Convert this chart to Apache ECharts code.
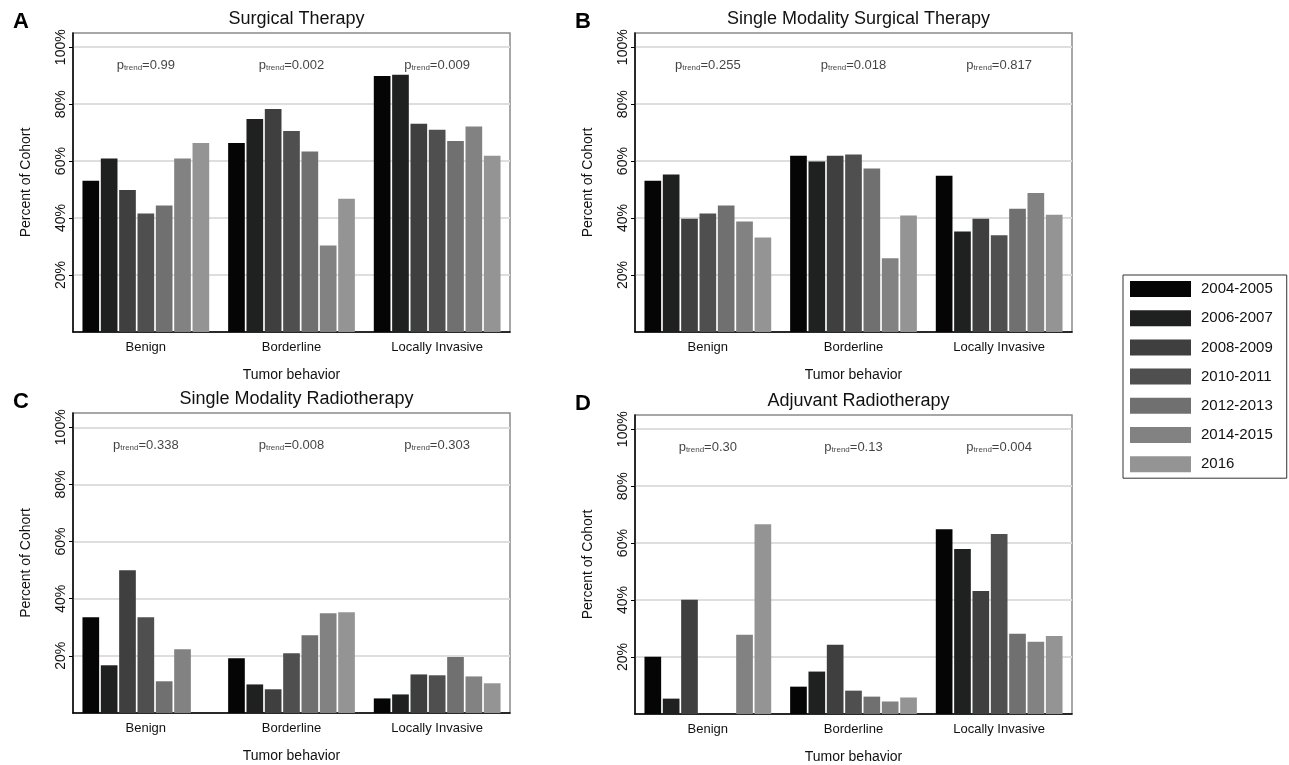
<!DOCTYPE html>
<html>
<head>
<meta charset="utf-8">
<script src="https://cdn.jsdelivr.net/npm/echarts@6/dist/echarts.min.js"></script>
<style>html,body{margin:0;padding:0;background:#fff;}#c{width:1289px;height:765px;}</style>
</head>
<body>
<div id="c"></div>
<script>
const categories = ['Benign', 'Borderline', 'Locally Invasive'];
const periods = ['2004-2005', '2006-2007', '2008-2009', '2010-2011', '2012-2013', '2014-2015', '2016'];
const colors = ['#050505', '#1f2020', '#3f3f3f', '#4f4f4f', '#707070', '#828282', '#949494'];
const yTicks = [20, 40, 60, 80, 100];

const panelTitles = ['Surgical Therapy', 'Single Modality Surgical Therapy', 'Single Modality Radiotherapy', 'Adjuvant Radiotherapy'];
const panelLetters = ['A', 'B', 'C', 'D'];

// values[period][category]
const surgical = [
  [53.1, 66.4, 89.9],
  [60.9, 74.8, 90.3],
  [49.9, 78.3, 73.1],
  [41.6, 70.6, 71.0],
  [44.4, 63.4, 67.1],
  [60.9, 30.4, 72.2],
  [66.4, 46.8, 61.9]
];
const singleSurgical = [
  [53.1, 61.9, 54.9],
  [55.3, 59.9, 35.3],
  [39.8, 61.9, 39.8],
  [41.6, 62.3, 34.0],
  [44.4, 57.4, 43.3],
  [38.8, 25.9, 48.8],
  [33.2, 40.9, 41.2]
];
const singleRadio = [
  [33.5, 19.2, 5.1],
  [16.7, 10.0, 6.5],
  [50.0, 8.3, 13.5],
  [33.5, 20.9, 13.2],
  [11.1, 27.2, 19.6],
  [22.3, 34.9, 12.8],
  [0, 35.3, 10.4]
];
const adjuvantRadio = [
  [20.1, 9.6, 64.9],
  [5.4, 14.9, 57.9],
  [40.1, 24.3, 43.2],
  [0, 8.2, 63.2],
  [0, 6.1, 28.2],
  [27.8, 4.4, 25.4],
  [66.6, 5.8, 27.4]
];
const pTrendA = ['0.99', '0.002', '0.009'];
const pTrendB = ['0.255', '0.018', '0.817'];
const pTrendC = ['0.338', '0.008', '0.303'];
const pTrendD = ['0.30', '0.13', '0.004'];

const panelData = [surgical, singleSurgical, singleRadio, adjuvantRadio];
const panelP = [pTrendA, pTrendB, pTrendC, pTrendD];

const grids = [
  {left: 73, top: 33, width: 437, height: 299},
  {left: 635, top: 33, width: 437, height: 299},
  {left: 73, top: 413, width: 437, height: 300},
  {left: 635, top: 415, width: 437, height: 299}
];

const FONT = 'Liberation Sans, Arial, Helvetica, sans-serif';
const option = {
  animation: false,
  backgroundColor: '#fff',
  textStyle: {fontFamily: FONT},
  title: [],
  grid: [],
  xAxis: [],
  yAxis: [],
  series: [],
  legend: {
    data: periods,
    orient: 'vertical',
    left: 1123, top: 275,
    itemWidth: 61, itemHeight: 16, itemGap: 13.2,
    padding: [6, 14, 6, 7],
    borderColor: '#333', borderWidth: 1,
    icon: 'rect',
    itemStyle: {borderWidth: 0},
    textStyle: {fontSize: 15, color: '#111', fontFamily: FONT, padding: [0, 0, 0, 5]},
    selectedMode: false
  }
};

grids.forEach((g, i) => {
  option.grid.push(Object.assign({show: true, borderColor: '#8a8a8a', borderWidth: 1.5, backgroundColor: 'transparent', containLabel: false}, g));
  option.title.push({
    text: panelTitles[i], left: g.left + g.width / 2, top: g.top - 28, textAlign: 'center',
    textStyle: {fontSize: 18, fontWeight: 'normal', color: '#111', fontFamily: FONT}
  });
  option.title.push({
    text: panelLetters[i], left: i % 2 === 0 ? 8 : 570, top: g.top - 27,
    textStyle: {fontSize: 22, fontWeight: 'bold', color: '#000', fontFamily: FONT}
  });
  option.xAxis.push({
    type: 'category', gridIndex: i, data: categories,
    name: 'Tumor behavior', nameLocation: 'middle', nameGap: 36,
    nameTextStyle: {fontSize: 14, color: '#111', fontFamily: FONT},
    axisLine: {show: true, lineStyle: {color: '#000', width: 1.5}},
    axisTick: {show: false},
    axisLabel: {fontSize: 13, color: '#111', margin: 9, fontFamily: FONT},
    splitLine: {show: false}
  });
  option.yAxis.push({
    type: 'value', gridIndex: i, min: 0, max: 105, interval: 20,
    name: 'Percent of Cohort', nameLocation: 'middle', nameGap: 40,
    nameTextStyle: {fontSize: 14, color: '#111', fontFamily: FONT},
    axisLine: {show: true, lineStyle: {color: '#000', width: 1.5}},
    axisTick: {show: true, length: 4, lineStyle: {color: '#000'}, customValues: yTicks},
    axisLabel: {
      rotate: 90, fontSize: 14, color: '#111', margin: 5, fontFamily: FONT,
      customValues: yTicks,
      formatter: v => v + '%'
    },
    splitLine: {show: true, lineStyle: {color: '#dedede', width: 2}}
  });
  panelData[i].forEach((vals, k) => {
    option.series.push({
      type: 'bar', name: periods[k], xAxisIndex: i, yAxisIndex: i,
      data: vals,
      barGap: '10%', barCategoryGap: '13%',
      itemStyle: {color: colors[k]},
      emphasis: {disabled: true}
    });
  });
  option.series.push({
    type: 'scatter', xAxisIndex: i, yAxisIndex: i, symbolSize: 0,
    data: categories.map((c, j) => ({value: [c, 94.6], p: panelP[i][j]})),
    silent: true,
    label: {
      show: true, position: 'inside',
      formatter: d => '{p|p}{s|trend}{v|=' + d.data.p + '}',
      rich: {
        p: {fontSize: 13, color: '#111', fontFamily: FONT, lineHeight: 18, verticalAlign: 'bottom'},
        s: {fontSize: 8, color: '#111', fontFamily: FONT, lineHeight: 14, verticalAlign: 'bottom'},
        v: {fontSize: 13, color: '#111', fontFamily: FONT, lineHeight: 18, verticalAlign: 'bottom'}
      }
    }
  });
});

const chart = echarts.init(document.getElementById('c'), null, {renderer: 'canvas'});
chart.setOption(option);
</script>
</body>
</html>
